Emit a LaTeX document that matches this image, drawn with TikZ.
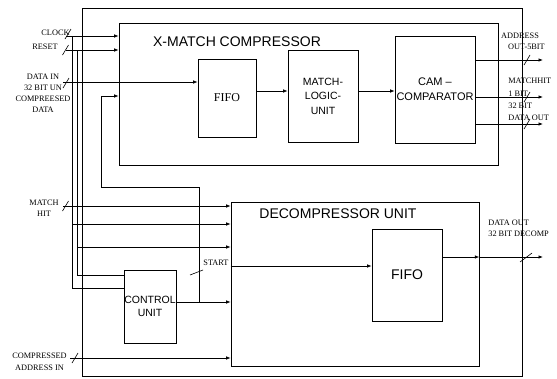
\documentclass[tikz,border=0pt]{standalone}
\usepackage{fontspec}
\setmainfont{Liberation Serif}
\setsansfont{Liberation Sans}
\usetikzlibrary{arrows.meta,calc}

\tikzset{
  block/.style={draw, line width=0.7pt, inner sep=0pt},
  sig/.style={font=\fontsize{8.3}{11}\selectfont, inner sep=0pt, align=center},
  heading/.style={font=\sffamily\fontsize{14}{16}\selectfont, inner sep=0pt},
  unitname/.style={font=\sffamily\fontsize{10.5}{14.5}\selectfont, align=center, inner sep=0pt}
}
\newcommand{\busmark}[1]{\draw[line width=0.6pt] ($(#1)+(-3,5)$) -- ($(#1)+(3,-5)$);}

\begin{document}
\begin{tikzpicture}[x=1pt, y=-1pt, line width=0.7pt, >={Latex[length=4.5pt,width=3.5pt]}]
  \useasboundingbox (0,0) rectangle (557,378);

  % Blocks
  \node[block, minimum width=440pt, minimum height=368pt] (chip) at (302,192) {};
  \node[block, minimum width=379pt, minimum height=142pt] (comp) at (308.5,94) {};
  \node[block, minimum width=58pt, minimum height=78pt,
        font=\fontsize{12}{14}\selectfont] (cfifo) at (227,98) {FIFO};
  \node[block, minimum width=70pt, minimum height=92pt] (mlu) at (323,96) {};
  \node[unitname] (mlutxt) at (mlu) {MATCH-\\LOGIC-\\UNIT};
  \node[block, minimum width=80pt, minimum height=107pt] (cam) at (435,89.5) {};
  \node[unitname, font=\sffamily\fontsize{11}{15}\selectfont] (camtxt) at (cam) {CAM --\\COMPARATOR};
  \node[block, minimum width=248pt, minimum height=164pt] (decomp) at (355,284) {};
  \node[block, minimum width=70pt, minimum height=92pt,
        font=\sffamily\fontsize{14}{16}\selectfont] (dfifo) at (407,275) {FIFO};
  \node[block, minimum width=52pt, minimum height=73pt] (ctrl) at (150,306.5) {};
  \node[unitname, font=\sffamily\fontsize{10.5}{12.5}\selectfont] (ctrltxt) at (ctrl) {CONTROL\\UNIT};

  \node[heading] (comptitle) at (237,42) {X-MATCH COMPRESSOR};
  \node[heading] (dectitle) at (338,214) {DECOMPRESSOR UNIT};

  % Signal labels
  \node[sig] (clklbl) at (55.5,33) {CLOCK};
  \node[sig] (rstlbl) at (45,47) {RESET};
  \node[sig] (datlbl) at (43,93.5) {DATA IN\\32 BIT UN\\COMPREESED\\DATA};
  \node[sig] (mhlbl) at (44,208.5) {MATCH\\HIT};
  \node[sig, font=\fontsize{8.3}{12}\selectfont] (calbl) at (39.5,362) {COMPRESSED\\ADDRESS IN};
  \node[sig] (stlbl) at (216,263) {START};
  \node[sig] (adlbl) at (520,36) {ADDRESS};
  \node[sig] (ad2lbl) at (526.5,47) {OUT-5BIT};
  \node[sig, anchor=west, align=left, font=\fontsize{8.3}{12.3}\selectfont] (outlbl) at (508,99.5)
    {MATCHHIT\\1 BIT\\32 BIT\\DATA OUT};
  \node[sig, anchor=west, align=left] (dolbl) at (488,228.5) {DATA OUT\\32 BIT DECOMP};

  % Inputs
  \coordinate (clkin) at (66,36);
  \coordinate (rstin) at (66,50);
  \coordinate (datin) at (63,82);
  \coordinate (mhin) at (63,206);
  \coordinate (cain) at (70,358);
  \draw[->] (clkin) -- (clkin -| comp.west);
  \draw[->] (rstin) -- (rstin -| comp.west);
  \draw[->] (datin) -- (datin -| cfifo.west);
  \draw[->] (mhin) -- (mhin -| decomp.west);
  \draw[->] (cain) -- (cain -| decomp.west);

  % Clock and reset buses
  \coordinate (clkbus) at (72,36);
  \coordinate (rstbus) at (77,50);
  \draw (clkbus) |- (ctrl.west |- 0,288);
  \draw (rstbus) |- (ctrl.west |- 0,275);
  \draw[->] (clkbus |- 0,224) -- (decomp.west |- 0,224);
  \draw[->] (rstbus |- 0,247) -- (decomp.west |- 0,247);

  % Control unit output
  \coordinate (ctbr) at (199,302);
  \draw[->] (ctrl.east |- ctbr) -- (decomp.west |- ctbr);
  \draw[->] (ctbr) |- (101,187) |- (comp.west |- 0,96);
  \draw[->] (decomp.west |- 0,266) -- (dfifo.west |- 0,266);

  % Compressor chain
  \draw[->] (cfifo.east |- 0,91) -- (mlu.west |- 0,91);
  \draw[->] (mlu.east |- 0,91) -- (cam.west |- 0,91);

  % Outputs
  \foreach \y/\n in {60/adout,97/mhout,124/dout} {
    \coordinate (\n) at (543,\y);
    \draw[->] (cam.east |- \n) -- (\n);
    \busmark{527,\y}
  }
  \coordinate (dcout) at (543,257);
  \draw[->] (dfifo.east |- dcout) -- (decomp.east |- dcout);
  \draw[->] (decomp.east |- dcout) -- (dcout);

  % Bus marks
  \busmark{68,34}
  \busmark{65.5,50}
  \busmark{66,83}
  \busmark{65.5,206}
  \busmark{75,358}
  \draw[line width=0.6pt] (190,275) -- (203,270);
  \draw[line width=0.6pt] (520,262) -- (532,253);
\end{tikzpicture}
\end{document}
